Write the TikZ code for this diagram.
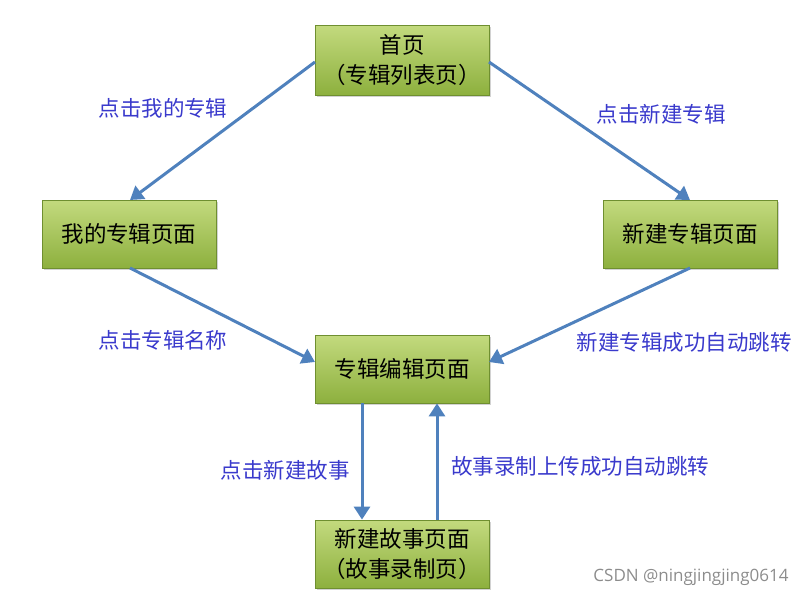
\documentclass[tikz,border=0pt]{standalone}
\usepackage{fontspec}
\setmainfont{Noto Sans CJK SC}
\newfontfamily\wmfont{Open Sans}
\usetikzlibrary{arrows.meta,shadows}
\definecolor{boxtop}{HTML}{C3DA7E}
\definecolor{boxbot}{HTML}{8DB03E}
\definecolor{boxline}{HTML}{6F8F30}
\definecolor{arr}{HTML}{4F81BD}
\definecolor{lbl}{HTML}{3A3ACC}
\tikzset{
  pagebox/.style={draw=boxline, line width=0.8pt, top color=boxtop, bottom color=boxbot,
    minimum width=174pt, minimum height=68pt, inner sep=0pt, align=center,
    font=\fontsize{22.5pt}{30pt}\selectfont, text=black,
    drop shadow={shadow xshift=1.5pt, shadow yshift=-2pt, fill=black!35}},
  flow/.style={draw=arr, line width=3pt, -{Triangle[length=13pt,width=16pt]}},
  lab/.style={text=lbl, font=\fontsize{21.5pt}{24pt}\selectfont}
}
\begin{document}
\begin{tikzpicture}[x=1pt,y=-1pt]
\useasboundingbox (0,0) rectangle (807,597);
\node[pagebox, minimum height=70pt] (home) at (402,60) {首页\\（专辑列表页）};
\node[pagebox] (mine) at (129,234) {我的专辑页面};
\node[pagebox] (new) at (690,234) {新建专辑页面};
\node[pagebox] (edit) at (402,369) {专辑编辑页面};
\node[pagebox] (story) at (402,554) {新建故事页面\\（故事录制页）};

\coordinate (hL) at (315,62);
\coordinate (hR) at (489,62);
\coordinate (mT) at (130,200);
\coordinate (nT) at (690,200);
\coordinate (mB) at (130,268);
\coordinate (nB) at (690,268);
\coordinate (eL) at (315,362);
\coordinate (eR) at (489,362);

\draw[flow] (hL) -- (mT);
\draw[flow] (hR) -- (nT);
\draw[flow] (mB) -- (eL);
\draw[flow] (nB) -- (eR);
\draw[flow] (edit.south -| 362,0) -- (story.north -| 362,0);
\draw[flow] (story.north -| 437,0) -- (edit.south -| 437,0);

\node[lab] (l1) at (163,108) {点击我的专辑};
\node[lab] (l2) at (661,114) {点击新建专辑};
\node[lab] (l3) at (163,340) {点击专辑名称};
\node[lab] (l4) at (684,342) {新建专辑成功自动跳转};
\node[lab] (l5) at (285,470) {点击新建故事};
\node[lab] (l6) at (580,466) {故事录制上传成功自动跳转};
\node[text=black!45, font=\wmfont\fontsize{17pt}{19pt}\selectfont] (wm) at (691,577) {CSDN @ningjingjing0614};
\end{tikzpicture}
\end{document}
